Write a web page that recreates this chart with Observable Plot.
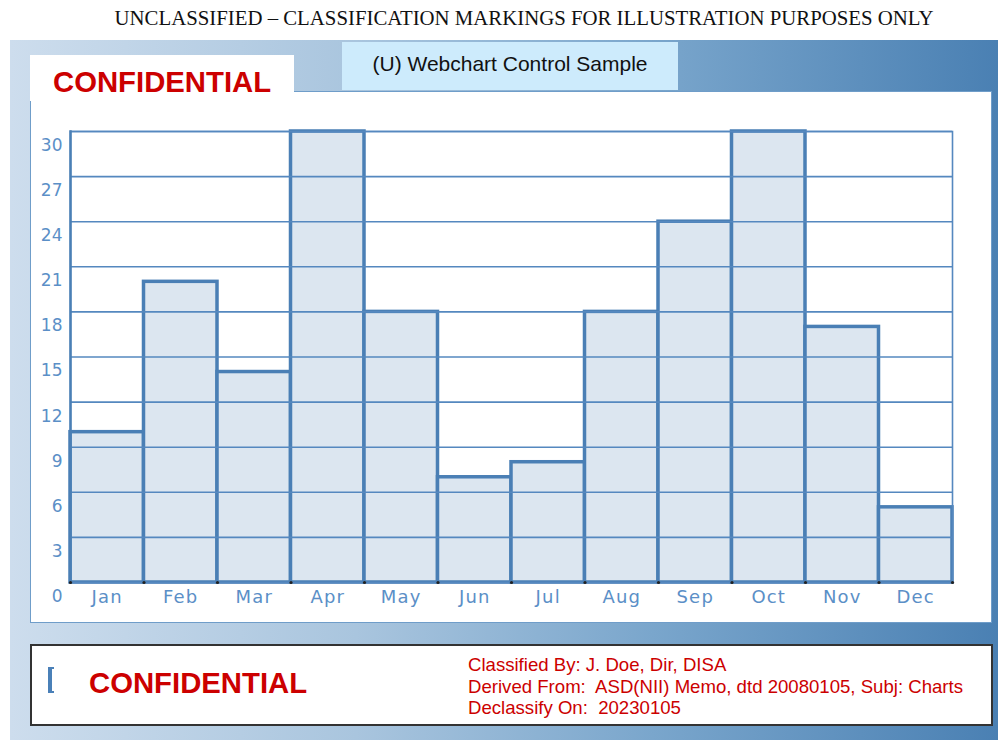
<!DOCTYPE html>
<html>
<head>
<meta charset="utf-8">
<script src="https://cdn.jsdelivr.net/npm/d3@7"></script>
<script src="https://cdn.jsdelivr.net/npm/@observablehq/plot@0.6"></script>
<style>
  html, body { margin: 0; padding: 0; background: #fff; }
  #page { position: relative; width: 998px; height: 740px; overflow: hidden; background: #fff; }
  #banner { position: absolute; left: 50px; top: 6px; width: 948px; text-align: center;
    font-family: "Liberation Serif", "Times New Roman", serif; font-size: 20.8px; color: #111; }
  #panel { position: absolute; left: 10px; top: 40px; width: 988px; height: 700px;
    background: linear-gradient(to right, #cddded 0%, #a9c5de 35%, #7aa6cc 65%, #4a80b3 100%); }
  #tab { position: absolute; left: 342px; top: 42px; width: 336px; height: 48px; background: #cdebfc;
    font-family: "Liberation Sans", Arial, sans-serif; font-size: 21px; color: #111; text-align: center;
    line-height: 21px; padding-top: 11px; box-sizing: border-box; }
  #chartbox { position: absolute; left: 30px; top: 91px; width: 962px; height: 532px; background: #fff;
    border: 1.5px solid #6f9dc9; box-sizing: border-box; }
  #chart { position: absolute; left: 31px; top: 92px; }
  #conf1 { position: absolute; left: 30px; top: 55px; width: 264px; height: 46px; background: #fff; }
  #conf1 span { position: absolute; left: 23px; top: 10px; font-family: "Liberation Sans", Arial, sans-serif;
    font-weight: bold; font-size: 29.3px; color: #cc0000; }
  #footer { position: absolute; left: 30px; top: 644px; width: 963px; height: 82px; background: #fff;
    border: 2px solid #333; box-sizing: border-box; }
  #bracket { position: absolute; left: 16px; top: 21px; width: 6px; height: 26px;
    border: 4px solid #4a80b8; border-right: none; border-top-width: 2.5px; border-bottom-width: 2.5px; box-sizing: border-box; }
  #conf2 { position: absolute; left: 57px; top: 20px; font-family: "Liberation Sans", Arial, sans-serif;
    font-weight: bold; font-size: 29.3px; color: #cc0000; }
  #meta { position: absolute; left: 436px; top: 8px; font-family: "Liberation Sans", Arial, sans-serif;
    font-size: 18.6px; line-height: 21.5px; color: #cc0000; white-space: pre; }
</style>
</head>
<body>
<div id="page">
  <div id="banner">UNCLASSIFIED – CLASSIFICATION MARKINGS FOR ILLUSTRATION PURPOSES ONLY</div>
  <div id="panel"></div>
  <div id="tab">(U) Webchart Control Sample</div>
  <div id="chartbox"></div>
  <div id="chart"></div>
  <div id="conf1"><span>CONFIDENTIAL</span></div>
  <div id="footer">
    <div id="bracket"></div>
    <div id="conf2">CONFIDENTIAL</div>
    <div id="meta">Classified By: J. Doe, Dir, DISA
Derived From:  ASD(NII) Memo, dtd 20080105, Subj: Charts
Declassify On:  20230105</div>
  </div>
</div>
<script>
const months = ["Jan","Feb","Mar","Apr","May","Jun","Jul","Aug","Sep","Oct","Nov","Dec"];
const values = [10, 20, 14, 30, 18, 7, 8, 18, 24, 30, 17, 5];
const yTicks = [0, 3, 6, 9, 12, 15, 18, 21, 24, 27, 30];

const data = months.map((m, i) => ({month: m, value: values[i]}));

const chart = Plot.plot({
  width: 959,
  height: 530,
  marginLeft: 39,
  marginRight: 38,
  marginTop: 39,
  marginBottom: 40,
  style: {background: "transparent", color: "#5b8fc7", fontFamily: "DejaVu Sans, sans-serif", fontSize: "17px"},
  x: {domain: months, padding: 0, round: false, label: null},
  y: {domain: [0, 30], label: null},
  marks: [
    Plot.barY(data, {x: "month", y: "value", fill: "#dce6f0", stroke: "#4a7fb5", strokeWidth: 3.5}),
    Plot.ruleY(yTicks, {stroke: "#5588bf", strokeWidth: 1.6}),
    Plot.frame({stroke: "#5588bf", strokeWidth: 1.6}),
    Plot.frame({anchor: "left", stroke: "#4a7fb5", strokeWidth: 2.5}),
    Plot.dot(months, {x: d => d, y: 0, dx: -36.75, r: 1.6, fill: "#222", stroke: null}),
    Plot.dot(months.slice(-1), {x: d => d, y: 0, dx: 36.75, r: 1.6, fill: "#222", stroke: null}),
    Plot.axisY({ticks: yTicks, tickSize: 0, tickPadding: 8, dy: 14, fill: "#5b8fc7", fontSize: 17}),
    Plot.axisX({tickSize: 0, tickPadding: 8, fill: "#5b8fc7", fontSize: 18})
  ]
});
chart.querySelectorAll("g[aria-label='x-axis tick label'] text").forEach(t => t.setAttribute("letter-spacing", "1.2"));
document.getElementById("chart").appendChild(chart);
</script>
</body>
</html>
